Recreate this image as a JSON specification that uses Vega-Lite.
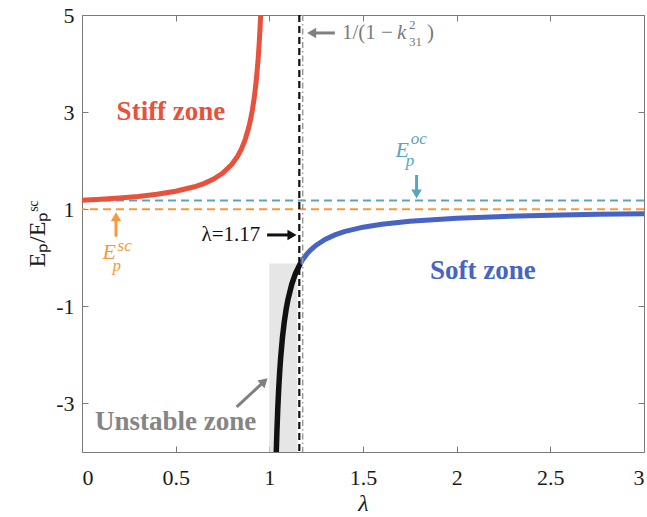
{
  "$schema": "https://vega.github.io/schema/vega-lite/v6.json",
  "width": 562,
  "height": 437,
  "autosize": "none",
  "padding": {"left": 82, "top": 15, "right": 3, "bottom": 65},
  "config": {
    "view": {"stroke": null},
    "font": "Liberation Serif",
    "axis": {
      "grid": false,
      "domainColor": "#7a7a7a",
      "tickColor": "#7a7a7a",
      "labelFont": "Liberation Serif",
      "labelFontSize": 22,
      "labelColor": "#1a1a1a",
      "titleFont": "Liberation Serif",
      "titleColor": "#1a1a1a",
      "titleFontWeight": "normal",
      "tickSize": -6
    }
  },
  "resolve": {"axis": {"x": "independent", "y": "independent"}},
  "layer": [
    {
      "data": {"values": [{"x": 1.0, "x2": 1.15, "y": -4, "y2": -0.12}]},
      "mark": {"type": "rect", "color": "#e6e6e6"},
      "encoding": {
        "x": {"field": "x", "type": "quantitative", "scale": {"domain": [0, 3], "nice": false, "zero": false},
          "axis": {"orient": "bottom", "values": [0, 0.5, 1, 1.5, 2, 2.5, 3], "format": "~g", "title": "λ", "titleFontStyle": "italic", "titleFontSize": 24, "labelPadding": 21, "titlePadding": 3}},
        "x2": {"field": "x2"},
        "y": {"field": "y", "type": "quantitative", "scale": {"domain": [-4, 5], "nice": false, "zero": false},
          "axis": {"orient": "left", "values": [-3, -1, 1, 3, 5], "labelExpr": "'' + datum.value", "title": "Eₚ/Eₚˢᶜ", "titleFontSize": 24, "labelPadding": 14, "titlePadding": 6}},
        "y2": {"field": "y2"}
      }
    },
    {
      "data": {"values": [{"y": 1.18}]},
      "mark": {"type": "rule", "color": "#5ba3c3", "strokeWidth": 2, "strokeDash": [8, 5]},
      "encoding": {
        "y": {"field": "y", "type": "quantitative", "axis": {"orient": "right", "values": [-3, -1, 1, 3, 5], "labels": false, "title": null}}
      }
    },
    {
      "data": {"values": [{"y": 1.0}]},
      "mark": {"type": "rule", "color": "#f59a3c", "strokeWidth": 2, "strokeDash": [8, 5]},
      "encoding": {
        "y": {"field": "y", "type": "quantitative", "axis": null}
      }
    },
    {
      "data": {"values": [
        {"x": 0, "y": 1.185}, {"x": 0.1, "y": 1.2056}, {"x": 0.2, "y": 1.2313}, {"x": 0.3, "y": 1.2643},
        {"x": 0.4, "y": 1.3083}, {"x": 0.5, "y": 1.37}, {"x": 0.6, "y": 1.4625}, {"x": 0.65, "y": 1.5286},
        {"x": 0.7, "y": 1.6167}, {"x": 0.75, "y": 1.74}, {"x": 0.8, "y": 1.925}, {"x": 0.83, "y": 2.0882},
        {"x": 0.85, "y": 2.2333}, {"x": 0.87, "y": 2.4231}, {"x": 0.89, "y": 2.6818}, {"x": 0.9, "y": 2.85},
        {"x": 0.91, "y": 3.0556}, {"x": 0.92, "y": 3.3125}, {"x": 0.93, "y": 3.6429}, {"x": 0.94, "y": 4.0833},
        {"x": 0.945, "y": 4.3636}, {"x": 0.95, "y": 4.7}, {"x": 0.9538, "y": 5.0}
      ]},
      "mark": {"type": "line", "color": "#e8513b", "strokeWidth": 5},
      "encoding": {
        "x": {"field": "x", "type": "quantitative", "axis": null},
        "y": {"field": "y", "type": "quantitative", "axis": null}
      }
    },
    {
      "data": {"values": [
        {"x": 1.037, "y": -4}, {"x": 1.04, "y": -3.625}, {"x": 1.045, "y": -3.1111}, {"x": 1.05, "y": -2.7},
        {"x": 1.055, "y": -2.3636}, {"x": 1.06, "y": -2.0833}, {"x": 1.07, "y": -1.6429}, {"x": 1.08, "y": -1.3125},
        {"x": 1.09, "y": -1.0556}, {"x": 1.1, "y": -0.85}, {"x": 1.12, "y": -0.5417}, {"x": 1.14, "y": -0.3214},
        {"x": 1.165, "y": -0.1212}
      ]},
      "mark": {"type": "line", "color": "#111111", "strokeWidth": 5.5},
      "encoding": {
        "x": {"field": "x", "type": "quantitative", "axis": null},
        "y": {"field": "y", "type": "quantitative", "axis": null}
      }
    },
    {
      "data": {"values": [
        {"x": 1.165, "y": -0.1212}, {"x": 1.17, "y": -0.0882}, {"x": 1.18, "y": -0.0278}, {"x": 1.2, "y": 0.075},
        {"x": 1.22, "y": 0.1591}, {"x": 1.25, "y": 0.26}, {"x": 1.3, "y": 0.3833}, {"x": 1.35, "y": 0.4714},
        {"x": 1.4, "y": 0.5375}, {"x": 1.5, "y": 0.63}, {"x": 1.6, "y": 0.6917}, {"x": 1.75, "y": 0.7533},
        {"x": 2, "y": 0.815}, {"x": 2.25, "y": 0.852}, {"x": 2.5, "y": 0.8767}, {"x": 2.75, "y": 0.8943},
        {"x": 3, "y": 0.9075}
      ]},
      "mark": {"type": "line", "color": "#4763c4", "strokeWidth": 5},
      "encoding": {
        "x": {"field": "x", "type": "quantitative", "axis": null},
        "y": {"field": "y", "type": "quantitative", "axis": null}
      }
    },
    {
      "data": {"values": [{"x": 1.16}]},
      "mark": {"type": "rule", "color": "#111111", "strokeWidth": 2.2, "strokeDash": [7, 4]},
      "encoding": {
        "x": {"field": "x", "type": "quantitative", "axis": {"orient": "top", "values": [0, 0.5, 1, 1.5, 2, 2.5, 3], "labels": false, "title": null}}
      }
    },
    {
      "data": {"values": [{"x": 1.178}]},
      "mark": {"type": "rule", "color": "#9a9a9a", "strokeWidth": 1.5, "strokeDash": [6, 3, 1.5, 3]},
      "encoding": {
        "x": {"field": "x", "type": "quantitative", "axis": null}
      }
    },
    {
      "data": {"values": [{"x": 0.826, "y": -3.07, "x2": 0.973, "y2": -2.545}]},
      "mark": {"type": "rule", "color": "#808080", "strokeWidth": 3},
      "encoding": {
        "x": {"field": "x", "type": "quantitative", "axis": null},
        "y": {"field": "y", "type": "quantitative", "axis": null},
        "x2": {"field": "x2"}, "y2": {"field": "y2"}
      }
    },
    {
      "data": {"values": [{"x": 0.973, "y": -2.545}]},
      "mark": {"type": "point", "shape": "triangle-up", "filled": true, "opacity": 1, "color": "#808080", "size": 110, "angle": 47.5},
      "encoding": {
        "x": {"field": "x", "type": "quantitative", "axis": null},
        "y": {"field": "y", "type": "quantitative", "axis": null}
      }
    },
    {
      "data": {"values": [{"x": 0.988, "y": 0.47, "x2": 1.121, "y2": 0.47}]},
      "mark": {"type": "rule", "color": "#111111", "strokeWidth": 3},
      "encoding": {
        "x": {"field": "x", "type": "quantitative", "axis": null},
        "y": {"field": "y", "type": "quantitative", "axis": null},
        "x2": {"field": "x2"}, "y2": {"field": "y2"}
      }
    },
    {
      "data": {"values": [{"x": 1.121, "y": 0.47}]},
      "mark": {"type": "point", "shape": "triangle-right", "filled": true, "opacity": 1, "color": "#111111", "size": 110},
      "encoding": {
        "x": {"field": "x", "type": "quantitative", "axis": null},
        "y": {"field": "y", "type": "quantitative", "axis": null}
      }
    },
    {
      "data": {"values": [{"x": 1.786, "y": 1.705, "x2": 1.786, "y2": 1.314}]},
      "mark": {"type": "rule", "color": "#5ba3c3", "strokeWidth": 3},
      "encoding": {
        "x": {"field": "x", "type": "quantitative", "axis": null},
        "y": {"field": "y", "type": "quantitative", "axis": null},
        "x2": {"field": "x2"}, "y2": {"field": "y2"}
      }
    },
    {
      "data": {"values": [{"x": 1.786, "y": 1.314}]},
      "mark": {"type": "point", "shape": "triangle-down", "filled": true, "opacity": 1, "color": "#5ba3c3", "size": 110},
      "encoding": {
        "x": {"field": "x", "type": "quantitative", "axis": null},
        "y": {"field": "y", "type": "quantitative", "axis": null}
      }
    },
    {
      "data": {"values": [{"x": 0.1815, "y": 0.434, "x2": 0.1815, "y2": 0.846}]},
      "mark": {"type": "rule", "color": "#f59a3c", "strokeWidth": 3},
      "encoding": {
        "x": {"field": "x", "type": "quantitative", "axis": null},
        "y": {"field": "y", "type": "quantitative", "axis": null},
        "x2": {"field": "x2"}, "y2": {"field": "y2"}
      }
    },
    {
      "data": {"values": [{"x": 0.1815, "y": 0.846}]},
      "mark": {"type": "point", "shape": "triangle-up", "filled": true, "opacity": 1, "color": "#f59a3c", "size": 110},
      "encoding": {
        "x": {"field": "x", "type": "quantitative", "axis": null},
        "y": {"field": "y", "type": "quantitative", "axis": null}
      }
    },
    {
      "data": {"values": [{"x": 1.35, "y": 4.63, "x2": 1.226, "y2": 4.63}]},
      "mark": {"type": "rule", "color": "#808080", "strokeWidth": 3},
      "encoding": {
        "x": {"field": "x", "type": "quantitative", "axis": null},
        "y": {"field": "y", "type": "quantitative", "axis": null},
        "x2": {"field": "x2"}, "y2": {"field": "y2"}
      }
    },
    {
      "data": {"values": [{"x": 1.226, "y": 4.63}]},
      "mark": {"type": "point", "shape": "triangle-left", "filled": true, "opacity": 1, "color": "#808080", "size": 110},
      "encoding": {
        "x": {"field": "x", "type": "quantitative", "axis": null},
        "y": {"field": "y", "type": "quantitative", "axis": null}
      }
    },
    {
      "data": {"values": [{"x": 0.475, "y": 3.0, "t": "Stiff zone"}]},
      "mark": {"type": "text", "color": "#e8513b", "fontSize": 27, "fontWeight": "bold", "font": "Liberation Serif", "align": "center", "baseline": "middle"},
      "encoding": {
        "x": {"field": "x", "type": "quantitative", "axis": null},
        "y": {"field": "y", "type": "quantitative", "axis": null},
        "text": {"field": "t"}
      }
    },
    {
      "data": {"values": [{"x": 2.14, "y": -0.266, "t": "Soft zone"}]},
      "mark": {"type": "text", "color": "#4763c4", "fontSize": 27, "fontWeight": "bold", "font": "Liberation Serif", "align": "center", "baseline": "middle"},
      "encoding": {
        "x": {"field": "x", "type": "quantitative", "axis": null},
        "y": {"field": "y", "type": "quantitative", "axis": null},
        "text": {"field": "t"}
      }
    },
    {
      "data": {"values": [{"x": 0.50, "y": -3.38, "t": "Unstable zone"}]},
      "mark": {"type": "text", "color": "#858585", "fontSize": 27, "fontWeight": "bold", "font": "Liberation Serif", "align": "center", "baseline": "middle"},
      "encoding": {
        "x": {"field": "x", "type": "quantitative", "axis": null},
        "y": {"field": "y", "type": "quantitative", "axis": null},
        "text": {"field": "t"}
      }
    },
    {
      "data": {"values": [{"x": 0.795, "y": 0.47, "t": "λ=1.17"}]},
      "mark": {"type": "text", "color": "#111111", "fontSize": 21, "font": "Liberation Serif", "align": "center", "baseline": "middle"},
      "encoding": {
        "x": {"field": "x", "type": "quantitative", "axis": null},
        "y": {"field": "y", "type": "quantitative", "axis": null},
        "text": {"field": "t"}
      }
    },
    {
      "data": {"values": [{"x": 0.145, "y": 0.12, "t": "E"}]},
      "mark": {"type": "text", "color": "#f59a3c", "fontSize": 22, "fontStyle": "italic", "font": "Liberation Serif", "align": "center", "baseline": "middle"},
      "encoding": {
        "x": {"field": "x", "type": "quantitative", "axis": null},
        "y": {"field": "y", "type": "quantitative", "axis": null},
        "text": {"field": "t"}
      }
    },
    {
      "data": {"values": [{"x": 0.19, "y": 0.25, "t": "sc"}, {"x": 0.163, "y": -0.16, "t": "p"}]},
      "mark": {"type": "text", "color": "#f59a3c", "fontSize": 17, "fontStyle": "italic", "font": "Liberation Serif", "align": "left", "baseline": "middle"},
      "encoding": {
        "x": {"field": "x", "type": "quantitative", "axis": null},
        "y": {"field": "y", "type": "quantitative", "axis": null},
        "text": {"field": "t"}
      }
    },
    {
      "data": {"values": [{"x": 1.71, "y": 2.22, "t": "E"}]},
      "mark": {"type": "text", "color": "#5ba3c3", "fontSize": 22, "fontStyle": "italic", "font": "Liberation Serif", "align": "center", "baseline": "middle"},
      "encoding": {
        "x": {"field": "x", "type": "quantitative", "axis": null},
        "y": {"field": "y", "type": "quantitative", "axis": null},
        "text": {"field": "t"}
      }
    },
    {
      "data": {"values": [{"x": 1.755, "y": 2.45, "t": "oc"}, {"x": 1.728, "y": 2.0, "t": "p"}]},
      "mark": {"type": "text", "color": "#5ba3c3", "fontSize": 17, "fontStyle": "italic", "font": "Liberation Serif", "align": "left", "baseline": "middle"},
      "encoding": {
        "x": {"field": "x", "type": "quantitative", "axis": null},
        "y": {"field": "y", "type": "quantitative", "axis": null},
        "text": {"field": "t"}
      }
    },
    {
      "data": {"values": [{"x": 1.388, "y": 4.63, "t": "1/(1 − "}, {"x": 1.842, "y": 4.63, "t": ")"}]},
      "mark": {"type": "text", "color": "#7a7a7a", "fontSize": 21, "font": "Liberation Serif", "align": "left", "baseline": "middle"},
      "encoding": {
        "x": {"field": "x", "type": "quantitative", "axis": null},
        "y": {"field": "y", "type": "quantitative", "axis": null},
        "text": {"field": "t"}
      }
    },
    {
      "data": {"values": [{"x": 1.682, "y": 4.63, "t": "k"}]},
      "mark": {"type": "text", "color": "#7a7a7a", "fontSize": 21, "fontStyle": "italic", "font": "Liberation Serif", "align": "left", "baseline": "middle"},
      "encoding": {
        "x": {"field": "x", "type": "quantitative", "axis": null},
        "y": {"field": "y", "type": "quantitative", "axis": null},
        "text": {"field": "t"}
      }
    },
    {
      "data": {"values": [{"x": 1.746, "y": 4.794, "t": "2"}, {"x": 1.746, "y": 4.444, "t": "31"}]},
      "mark": {"type": "text", "color": "#7a7a7a", "fontSize": 13, "font": "Liberation Serif", "align": "left", "baseline": "middle"},
      "encoding": {
        "x": {"field": "x", "type": "quantitative", "axis": null},
        "y": {"field": "y", "type": "quantitative", "axis": null},
        "text": {"field": "t"}
      }
    }
  ]
}
